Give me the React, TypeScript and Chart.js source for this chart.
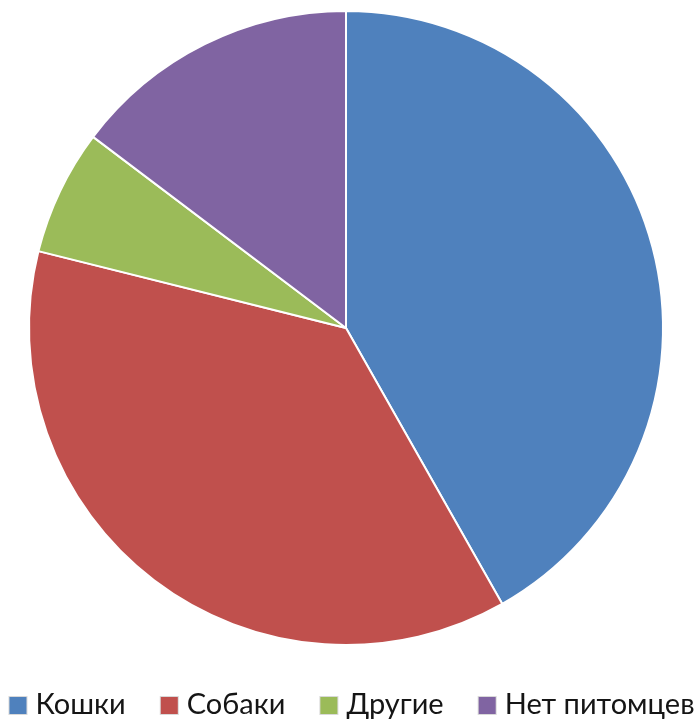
import React, { useEffect, useRef } from "react";
import { Chart, registerables } from "chart.js";

Chart.register(...registerables);

const categories = ["Кошки", "Собаки", "Другие", "Нет питомцев"];
const values = [41.8, 37.1, 6.4, 14.7];
const colors = ["#4F81BD", "#C0504D", "#9BBB59", "#8064A2"];

const LEGEND_FONT = "29px Lato";
const BOX = 17;
const BOX_GAP = 9;
const ITEM_GAP = 35;
const LEGEND_CENTER_X = 352;
const LEGEND_BASELINE = 714;

const bottomLegend = {
  id: "bottomLegend",
  afterDraw(chart: any) {
    const ctx: CanvasRenderingContext2D = chart.ctx;
    const labels: string[] = chart.data.labels;
    const bg: string[] = chart.data.datasets[0].backgroundColor;
    ctx.save();
    ctx.font = LEGEND_FONT;
    const widths = labels.map((l) => ctx.measureText(l).width);
    const total =
      widths.reduce((a, b) => a + b, 0) + labels.length * (BOX + BOX_GAP) + (labels.length - 1) * ITEM_GAP;
    let x = LEGEND_CENTER_X - total / 2;
    labels.forEach((l, i) => {
      ctx.fillStyle = "#d9d9d9";
      ctx.fillRect(x - 1, LEGEND_BASELINE - BOX - 1, BOX + 2, BOX + 2);
      ctx.fillStyle = bg[i];
      ctx.fillRect(x, LEGEND_BASELINE - BOX, BOX, BOX);
      x += BOX + BOX_GAP;
      ctx.fillStyle = "#151515";
      ctx.textBaseline = "alphabetic";
      ctx.textAlign = "left";
      ctx.fillText(l, x, LEGEND_BASELINE);
      x += widths[i] + ITEM_GAP;
    });
    ctx.restore();
  },
};

export default function App() {
  const ref = useRef<HTMLCanvasElement | null>(null);
  useEffect(() => {
    document.body.style.margin = "0";
    const chart = new Chart(ref.current!, {
      type: "pie",
      data: {
        labels: categories,
        datasets: [
          {
            data: values,
            backgroundColor: colors,
            borderColor: "#ffffff",
            borderWidth: 2,
          },
        ],
      },
      options: {
        responsive: false,
        animation: false,
        layout: { padding: { top: 10, left: 1, right: 8, bottom: 73 } },
        plugins: {
          tooltip: { enabled: false },
          legend: { display: false },
        },
      },
      plugins: [bottomLegend],
    });
    return () => chart.destroy();
  }, []);
  return (
    <div style={{ position: "absolute", left: 0, top: 0, width: 699, height: 719, background: "#fff" }}>
      <canvas ref={ref} width={699} height={719} />
    </div>
  );
}
